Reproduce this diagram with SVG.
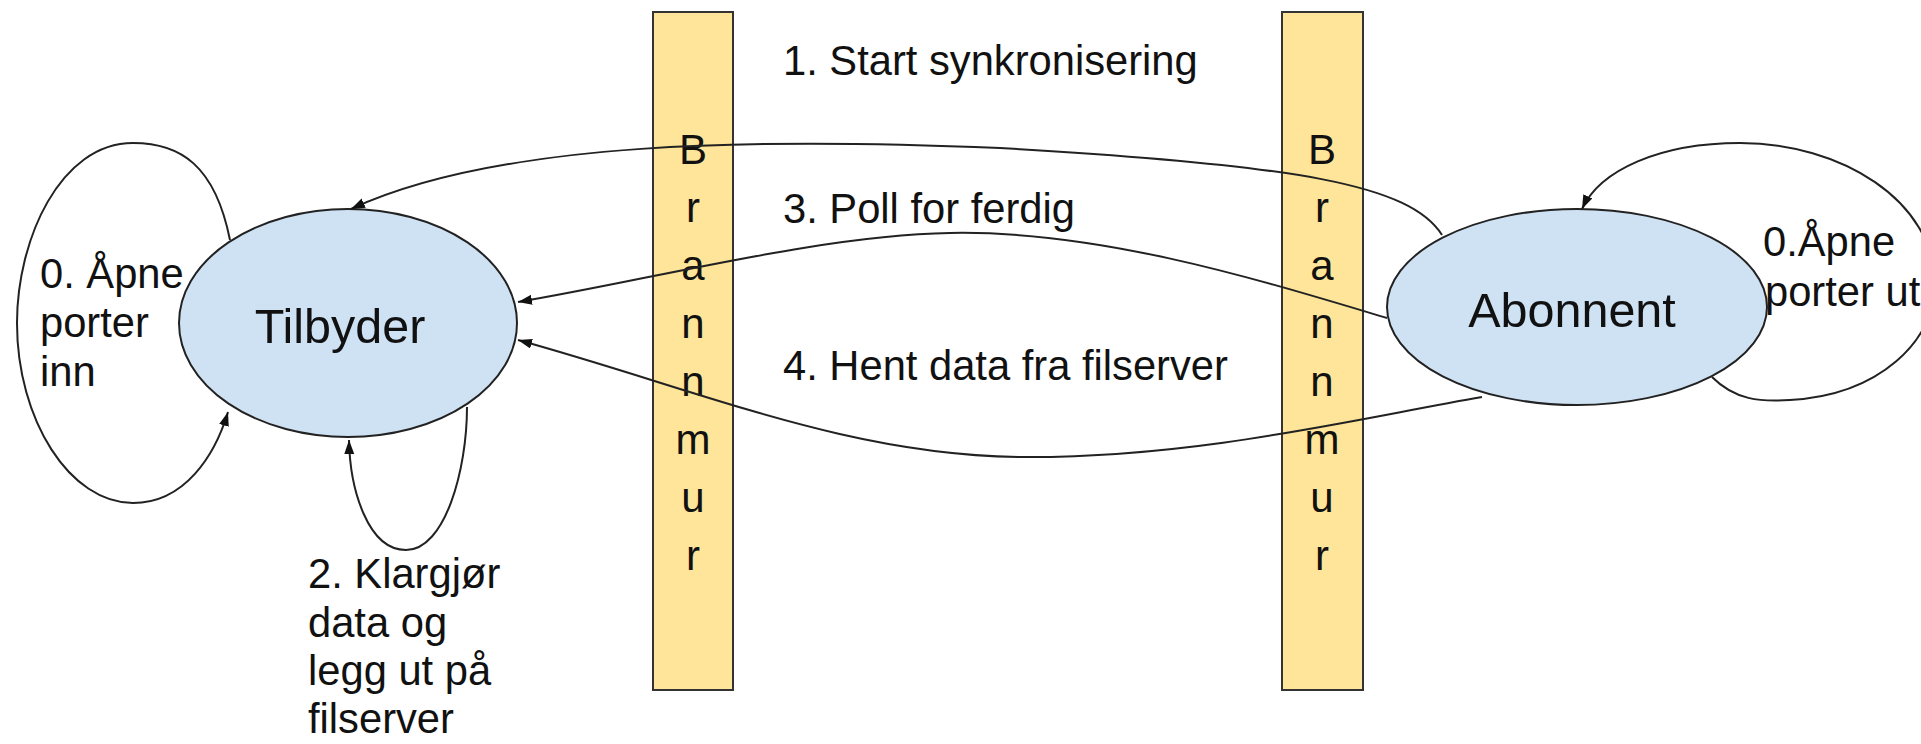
<svg xmlns="http://www.w3.org/2000/svg" width="1921" height="744" viewBox="0 0 1921 744">
  <style>
    .wall { fill: #ffe599; stroke: #333333; stroke-width: 2; }
    .node { fill: #cfe2f3; stroke: #222222; stroke-width: 2; }
    .edge { fill: none; stroke: #222222; stroke-width: 2; marker-end: url(#arrow); }
    .loop { fill: none; stroke: #222222; stroke-width: 2; }
    text { font-family: "Liberation Sans", Arial, sans-serif; fill: #111111; }
    .big { font-size: 48.5px; }
    .lbl { font-size: 41.7px; }
    .wtxt { font-size: 42px; text-anchor: middle; }
  </style>
  <defs>
    <marker id="arrow" markerUnits="userSpaceOnUse" markerWidth="16" markerHeight="12" refX="14" refY="5" orient="auto">
      <path d="M0,0 L14,5 L0,10 z" fill="#111111"/>
    </marker>
  </defs>
  <rect width="1921" height="744" fill="#ffffff"/>

  <!-- firewall, left -->
  <g id="wall-left">
    <rect class="wall" x="653" y="12" width="80" height="678"/>
    <text class="wtxt" x="693" y="164">B</text>
    <text class="wtxt" x="693" y="222">r</text>
    <text class="wtxt" x="693" y="280">a</text>
    <text class="wtxt" x="693" y="338">n</text>
    <text class="wtxt" x="693" y="396">n</text>
    <text class="wtxt" x="693" y="454">m</text>
    <text class="wtxt" x="693" y="512">u</text>
    <text class="wtxt" x="693" y="570">r</text>
  </g>

  <!-- firewall, right -->
  <g id="wall-right">
    <rect class="wall" x="1282" y="12" width="81" height="678"/>
    <text class="wtxt" x="1322" y="164">B</text>
    <text class="wtxt" x="1322" y="222">r</text>
    <text class="wtxt" x="1322" y="280">a</text>
    <text class="wtxt" x="1322" y="338">n</text>
    <text class="wtxt" x="1322" y="396">n</text>
    <text class="wtxt" x="1322" y="454">m</text>
    <text class="wtxt" x="1322" y="512">u</text>
    <text class="wtxt" x="1322" y="570">r</text>
  </g>

  <!-- provider -->
  <g id="tilbyder">
    <ellipse class="node" cx="348" cy="323" rx="169" ry="114"/>
    <text class="big" x="340" y="343" text-anchor="middle">Tilbyder</text>
  </g>

  <!-- subscriber -->
  <g id="abonnent">
    <ellipse class="node" cx="1577" cy="307" rx="190" ry="98"/>
    <text class="big" x="1572" y="327" text-anchor="middle">Abonnent</text>
  </g>

  <!-- connectors -->
  <g id="connectors">
    <!-- 0: open ports in (provider self loop) -->
    <path class="edge" d="M230,240 C215,165 180,143 133,143 C60,143 17,240 17,323 C17,420 70,503 133,503 C185,503 215,455 228,412"/>
    <!-- 2: prepare data (provider self loop) -->
    <path class="edge" d="M467,407 C467,470 445,550 406,550 C368,550 350,490 349,440"/>
    <!-- 0: open ports out (subscriber self loop) -->
    <path class="edge" d="M1712,377 C1735,400 1760,402 1790,400 C1880,395 1935,340 1935,285 C1935,200 1840,143 1740,143 C1660,143 1600,170 1582,209"/>
    <!-- 1: start sync -->
    <path class="edge" d="M1442,235 C1410,185 1300,165 1000,148 C760,138 500,140 351,209"/>
    <!-- 3: poll for done -->
    <path class="edge" d="M1387,318 C1260,280 1100,230 950,233 C820,235 650,280 518,302"/>
    <!-- 4: fetch data -->
    <path class="edge" d="M1482,397 C1350,420 1200,457 1028,457 C850,457 700,390 518,340"/>
  </g>

  <!-- step labels -->
  <g id="labels">
    <text class="lbl" x="783" y="75">1. Start synkronisering</text>
    <text class="lbl" x="783" y="223">3. Poll for ferdig</text>
    <text class="lbl" x="783" y="380">4. Hent data fra filserver</text>
    <text class="lbl" x="40" y="288">0. Åpne</text>
    <text class="lbl" x="40" y="337">porter</text>
    <text class="lbl" x="40" y="386">inn</text>
    <text class="lbl" x="1763" y="256">0.Åpne</text>
    <text class="lbl" x="1765" y="306">porter ut</text>
    <text class="lbl" x="308" y="588">2. Klargjør</text>
    <text class="lbl" x="308" y="637">data og</text>
    <text class="lbl" x="308" y="685">legg ut på</text>
    <text class="lbl" x="308" y="733">filserver</text>
  </g>
</svg>
